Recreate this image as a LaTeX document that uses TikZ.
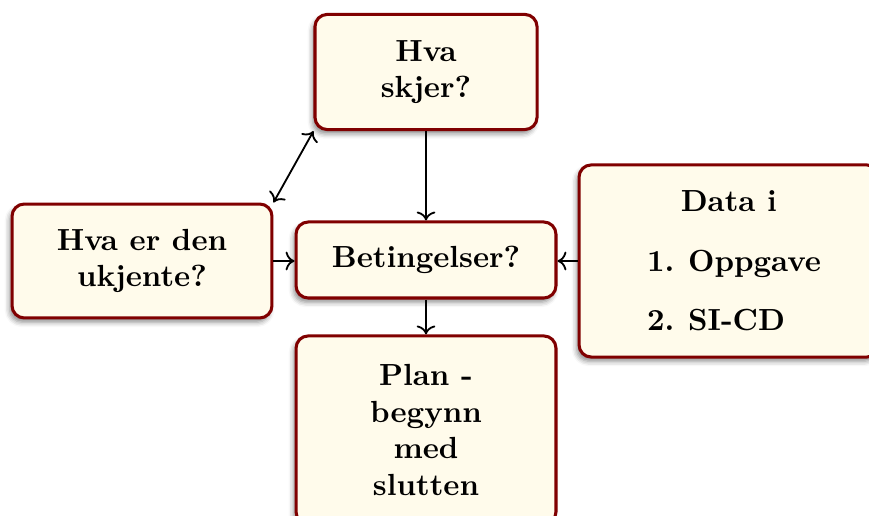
\documentclass[tikz,border=0pt]{standalone}
\usetikzlibrary{arrows.meta,shadows.blur}
\definecolor{boxred}{RGB}{128,0,0}
\definecolor{boxfill}{RGB}{255,251,235}

\begin{document}
\begin{tikzpicture}[x=0.3274pt,y=-0.3274pt,
  box/.style={draw=boxred,fill=boxfill,line width=1pt,rounded corners=4pt,
    blur shadow={shadow xshift=-0.8pt,shadow yshift=-1.4pt,shadow blur radius=1.6pt,shadow opacity=45},
    align=center,font=\bfseries,inner sep=0pt},
  link/.style={semithick}]
\useasboundingbox (0,0) rectangle (869,516);
\node[box,minimum width=72.7pt,minimum height=37.7pt] (skjer) at (426,72) {Hva\\skjer?};
\node[box,minimum width=85.1pt,minimum height=37.3pt] (ukjent) at (142,261) {Hva er den\\ukjente?};
\node[box,minimum width=85.1pt,minimum height=24.9pt] (beting) at (426,260) {Betingelser?};
\node[box,minimum width=98.2pt,minimum height=62.9pt,align=left] (data) at (729,261)
  {\hspace*{14.3pt}Data i\\[7.6pt]\hspace*{3.3pt}1.\hspace{4.5pt}Oppgave\\[7.3pt]\hspace*{3.3pt}2.\hspace{4.5pt}SI-CD};
\node[box,minimum width=85.1pt,minimum height=61.6pt] (plan) at (426,430) {Plan -\\begynn\\med\\slutten};

\draw[link,->] (skjer) -- (beting);
\draw[link,->] (ukjent.east) -- (ukjent.east -| beting.west);
\draw[link,->] (data.west) -- (data.west -| beting.east);
\draw[link,->] (beting) -- (plan);
\draw[link,<->] (ukjent.north east) -- (skjer.south west);
\end{tikzpicture}
\end{document}
